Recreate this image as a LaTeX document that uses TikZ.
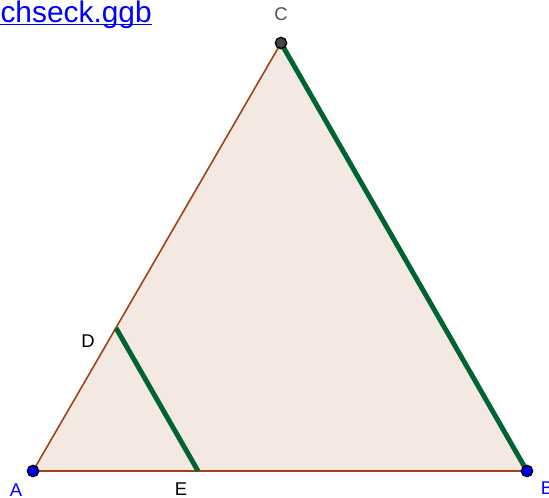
\documentclass[tikz,border=0pt]{standalone}
\usepackage{fontspec}
\setmainfont{Liberation Sans}
\usepackage{xcolor}
\usetikzlibrary{calc}

\definecolor{triFill}{RGB}{244,232,227}
\definecolor{triEdge}{RGB}{160,64,20}
\definecolor{segGreen}{RGB}{0,100,50}
\definecolor{ptBlue}{RGB}{0,0,255}
\definecolor{ptGray}{RGB}{68,68,68}
\definecolor{lblGray}{RGB}{80,80,80}

\tikzset{
    pt/.style={circle, draw=black, line width=0.8pt, inner sep=0pt, minimum size=6.4pt},
    lbl/.style={font=\fontsize{10.5}{12}\selectfont, inner sep=0pt}
}

\begin{document}
\begin{tikzpicture}[x=0.02cm, y=-0.02cm]

    % --- FRAME ---
    \useasboundingbox (0,0) rectangle (549,498);

    % --- POINTS ---
    \coordinate (A) at (33,471);
    \coordinate (B) at (527,471);
    \coordinate (C) at (281,43);
    \coordinate (D) at (116,328);
    \coordinate (E) at (198,471);

    % Triangle area and its sides
    \fill[triFill] (A) -- (B) -- (C) -- cycle;
    \draw[triEdge, line width=0.9pt] (A) -- (B) -- (C) -- cycle;

    % Parallel segments
    \draw[segGreen, line width=2.8pt] (B) -- (C);
    \draw[segGreen, line width=2.8pt] (D) -- (E);

    % Dots on top
    \node[pt, fill=ptBlue] (dotA) at (A) {};
    \node[pt, fill=ptBlue] (dotB) at (B) {};
    \node[pt, fill=ptGray] (dotC) at (C) {};

    % --- LABELS ---
    \node[lbl, text=ptBlue] (labA) at (16,490) {A};
    \node[lbl, text=ptBlue] (labB) at (547,488) {B};
    \node[lbl, text=lblGray] (labC) at (281,14) {C};
    \node[lbl] (labD) at (88,341) {D};
    \node[lbl] (labE) at (181,489) {E};

    % File name (cut at the left border)
    \node[anchor=base east, inner sep=0pt, text=ptBlue, font=\fontsize{17}{20}\selectfont] (fname) at (152,22) {chseck.ggb};
    \draw[ptBlue, line width=1.1pt] (0,24.5) -- (fname.base east |- 0,24.5);

\end{tikzpicture}
\end{document}
